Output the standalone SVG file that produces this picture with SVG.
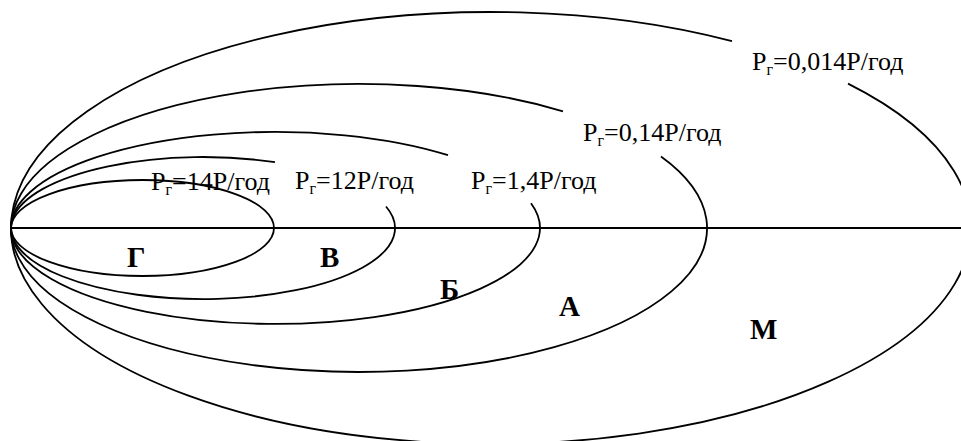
<svg xmlns="http://www.w3.org/2000/svg" width="961" height="441" viewBox="0 0 961 441">
<style>
.z{fill:none;stroke:#000;stroke-width:1.8}
text{font-family:'Liberation Serif','Times New Roman',serif;fill:#000}
.t{font-size:26px}
.s{font-size:16px}
.b{font-size:29px;font-weight:bold}
</style>
<rect width="961" height="441" fill="#fff"/>
<g id="connectors">
<line x1="11" y1="228" x2="961" y2="228" stroke="#000" stroke-width="1.8"/>
</g>
<g id="zone-M">
<path class="z" d="M732 41.2 A480 216 0 1 0 848 83.6"/>
<text class="t" x="752" y="70">Р<tspan class="s" dy="5">г</tspan><tspan dy="-5">=0,014Р/год</tspan></text>
<text class="b" x="750" y="339">М</text>
</g>
<g id="zone-A">
<path class="z" d="M563 111.3 A348 144 0 1 0 661 156.4"/>
<text class="t" x="583" y="141">Р<tspan class="s" dy="5">г</tspan><tspan dy="-5">=0,14Р/год</tspan></text>
<text class="b" x="559" y="316">А</text>
</g>
<g id="zone-B">
<path class="z" d="M448 155.2 A264.5 96 0 1 0 531 203.2"/>
<text class="t" x="471" y="189">Р<tspan class="s" dy="5">г</tspan><tspan dy="-5">=1,4Р/год</tspan></text>
<text class="b" x="440" y="299">Б</text>
</g>
<g id="zone-V">
<path class="z" d="M275 162.2 A192 71 0 1 0 386 206.5"/>
<text class="t" x="295" y="189">Р<tspan class="s" dy="5">г</tspan><tspan dy="-5">=12Р/год</tspan></text>
<text class="b" x="320" y="267">В</text>
</g>
<g id="zone-G">
<ellipse class="z" cx="142.5" cy="228" rx="131.5" ry="48"/>
<text class="t" x="151" y="190">Р<tspan class="s" dy="5">г</tspan><tspan dy="-5">=14Р/год</tspan></text>
<text class="b" x="127" y="267">Г</text>
</g>
</svg>
